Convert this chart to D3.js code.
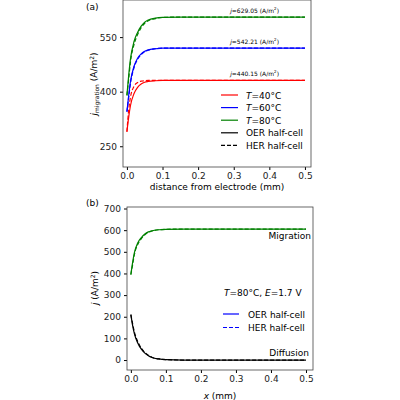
<!DOCTYPE html>
<html><head><meta charset="utf-8">
<script src="https://cdn.jsdelivr.net/npm/d3@7"></script>
<style>body{margin:0;background:#fff}text{font-family:"DejaVu Sans",sans-serif}</style>
</head><body>
<script>
// data
let xs = [0, 0.005, 0.01, 0.02, 0.03, 0.04, 0.05, 0.06, 0.08, 0.1, 0.15, 0.2, 0.3, 0.4, 0.5];
let red_oer = [290, 330, 362, 395, 412, 421, 426, 428, 430, 431, 431, 431, 431, 431, 431];
let red_her = [290, 350, 385, 415, 425, 429, 430, 431, 431, 431, 431, 431, 431, 431, 431];
let blue_oer = [345, 390, 428, 470, 492, 504, 511, 515, 518, 520, 520, 520, 520, 520, 520];
let blue_her = [345, 385, 423, 466, 489, 502, 510, 514, 518, 520, 520, 520, 520, 520, 520];
let green_oer = [390, 445, 490, 538, 563, 580, 591, 597, 602, 604, 605, 605, 605, 605, 605];
let green_her = [390, 435, 482, 530, 557, 576, 588, 595, 601, 604, 605, 605, 605, 605, 605];
let mig_oer = [395, 450, 495, 542, 566, 582, 592, 597, 602, 604, 605, 605, 605, 605, 605];
let mig_her = [395, 440, 487, 535, 561, 579, 590, 596, 602, 604, 605, 605, 605, 605, 605];
let dif_oer = [210, 160, 122, 78, 50, 32, 20, 12, 5, 2, 0, 0, 0, 0, 0];
let dif_her = [210, 168, 130, 84, 54, 35, 22, 13, 5, 2, 0, 0, 0, 0, 0];
let xTicks = [0, 0.1, 0.2, 0.3, 0.4, 0.5];
let yTicksA = [250, 400, 550];
let yTicksB = [0, 100, 200, 300, 400, 500, 600, 700];
let annot = [["629.05", 605], ["542.21", 520], ["440.15", 431]];

let svg = d3.select("body").append("svg").attr("width", 400).attr("height", 400);

function panel(box, xDom, yDom, yTicks) {
  let g = svg.append("g");
  let x = d3.scaleLinear().domain(xDom).range([box.l, box.r]);
  let y = d3.scaleLinear().domain(yDom).range([box.b, box.t]);
  g.append("g").attr("transform", `translate(0,${box.b})`)
    .call(d3.axisBottom(x).tickValues(xTicks).tickFormat(d3.format(".1f")).tickSize(3).tickSizeOuter(0))
    .call(a => a.selectAll("text").attr("font-size", 9).attr("fill", "#222"));
  g.append("g").attr("transform", `translate(${box.l},0)`)
    .call(d3.axisLeft(y).tickValues(yTicks).tickSize(3).tickSizeOuter(0))
    .call(a => a.selectAll("text").attr("font-size", 9).attr("fill", "#222"));
  g.selectAll(".domain").remove();
  g.append("rect").attr("x", box.l).attr("y", box.t).attr("width", box.r - box.l)
    .attr("height", box.b - box.t).attr("fill", "none").attr("stroke", "#444").attr("stroke-width", 0.8);
  return { g, x, y };
}

function addLine(p, vals, color, dashed) {
  let line = d3.line().x((d, i) => p.x(xs[i])).y(d => p.y(d)).curve(d3.curveMonotoneX);
  p.g.append("path").datum(vals).attr("d", line).attr("fill", "none")
    .attr("stroke", color).attr("stroke-width", 1.2)
    .attr("stroke-dasharray", dashed ? "4,2" : null);
}

// panel (a)
let a = panel({ l: 123, r: 311, t: 0, b: 167 }, [-0.011, 0.517], [193, 652], yTicksA);
addLine(a, red_oer, "red", false); addLine(a, red_her, "red", true);
addLine(a, blue_oer, "blue", false); addLine(a, blue_her, "blue", true);
addLine(a, green_oer, "green", false); addLine(a, green_her, "green", true);
annot.forEach(d => {
  let t = a.g.append("text").attr("x", a.x(0.29)).attr("y", a.y(d[1]) - 4).attr("font-size", 6);
  t.append("tspan").attr("font-style", "italic").text("j");
  t.append("tspan").text("=" + d[0] + " (A/m");
  t.append("tspan").attr("font-size", 4).attr("dy", -3).text("2");
  t.append("tspan").attr("dy", 3).text(")");
});
let legA = [["red", false, "40°C", true], ["blue", false, "60°C", true], ["green", false, "80°C", true],
  ["black", false, "OER half-cell", false], ["black", true, "HER half-cell", false]];
legA.forEach((d, i) => {
  let yy = 95 + i * 12.6;
  a.g.append("line").attr("x1", 221).attr("x2", 238).attr("y1", yy).attr("y2", yy)
    .attr("stroke", d[0]).attr("stroke-width", 1.2).attr("stroke-dasharray", d[1] ? "4,2" : null);
  let t = a.g.append("text").attr("x", 246).attr("y", yy + 3.5).attr("font-size", 9);
  if (d[3]) { t.append("tspan").attr("font-style", "italic").text("T"); t.append("tspan").text("=" + d[2]); }
  else t.text(d[2]);
});
let ya = a.g.append("text").attr("transform", "translate(97,84) rotate(-90)").attr("text-anchor", "middle").attr("font-size", 9);
ya.append("tspan").attr("font-style", "italic").text("j");
ya.append("tspan").attr("font-size", 6).attr("dy", 2).text("migration");
ya.append("tspan").attr("dy", -2).text(" (A/m");
ya.append("tspan").attr("font-size", 6).attr("dy", -3).text("2");
ya.append("tspan").attr("dy", 3).text(")");
a.g.append("text").attr("x", 217).attr("y", 190).attr("text-anchor", "middle").attr("font-size", 9).text("distance from electrode (mm)");
svg.append("text").attr("x", 86).attr("y", 10).attr("font-family", "DejaVu Serif").attr("font-size", 9).text("(a)");

// panel (b)
let b = panel({ l: 127, r: 313, t: 207, b: 370 }, [-0.011, 0.52], [-46, 707], yTicksB);
addLine(b, mig_oer, "green", false); addLine(b, mig_her, "green", true);
addLine(b, dif_oer, "black", false); addLine(b, dif_her, "black", true);
b.g.append("text").attr("x", 311).attr("y", 239).attr("text-anchor", "end").attr("font-size", 9).text("Migration");
b.g.append("text").attr("x", 309).attr("y", 356).attr("text-anchor", "end").attr("font-size", 9).text("Diffusion");
let tb = b.g.append("text").attr("x", 224).attr("y", 296).attr("font-size", 9);
tb.append("tspan").attr("font-style", "italic").text("T");
tb.append("tspan").text("=80°C, ");
tb.append("tspan").attr("font-style", "italic").text("E");
tb.append("tspan").text("=1.7 V");
[["OER half-cell", false], ["HER half-cell", true]].forEach((d, i) => {
  let yy = 314 + i * 13.5;
  b.g.append("line").attr("x1", 223).attr("x2", 239).attr("y1", yy).attr("y2", yy)
    .attr("stroke", "blue").attr("stroke-width", 1.2).attr("stroke-dasharray", d[1] ? "4,2" : null);
  b.g.append("text").attr("x", 248).attr("y", yy + 3.5).attr("font-size", 9).text(d[0]);
});
let yb = b.g.append("text").attr("transform", "translate(98,288) rotate(-90)").attr("text-anchor", "middle").attr("font-size", 9);
yb.append("tspan").attr("font-style", "italic").text("j");
yb.append("tspan").text(" (A/m");
yb.append("tspan").attr("font-size", 6).attr("dy", -3).text("2");
yb.append("tspan").attr("dy", 3).text(")");
let xb = b.g.append("text").attr("x", 220).attr("y", 399).attr("text-anchor", "middle").attr("font-size", 9);
xb.append("tspan").attr("font-style", "italic").text("x");
xb.append("tspan").text(" (mm)");
svg.append("text").attr("x", 86).attr("y", 206).attr("font-family", "DejaVu Serif").attr("font-size", 9).text("(b)");
</script>
</body></html>
